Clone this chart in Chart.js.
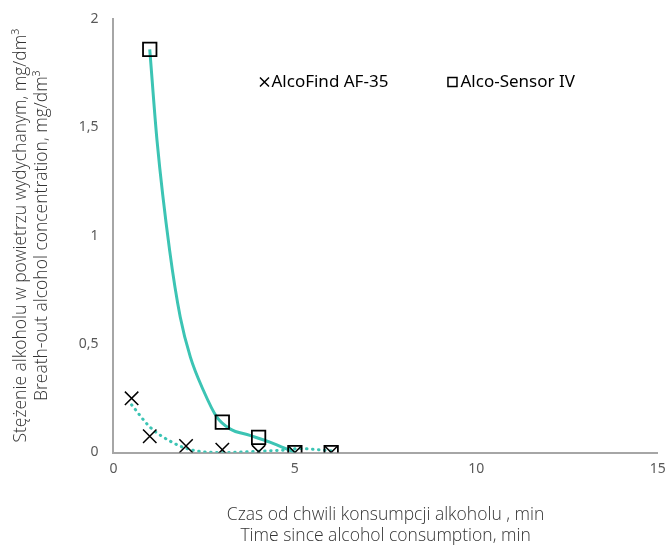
<!DOCTYPE html>
<html>
<head>
<meta charset="utf-8">
<script src="https://cdn.jsdelivr.net/npm/chart.js@4"></script>
<style>
  html, body { margin: 0; padding: 0; background: #fff; }
  #wrap { width: 669px; height: 547px; }
</style>
</head>
<body>
<div id="wrap"><canvas id="chart" width="669" height="547"></canvas></div>
<script>
// measured points
const timeAF = [0.5, 1, 2, 3, 4, 5, 6];
const valAF = [0.25, 0.075, 0.03, 0.013, 0.003, 0, 0];
const timeAS = [1, 3, 4, 5, 6];
const valAS = [1.86, 0.14, 0.07, 0, 0];

// smoothed curves
const curveASx = [1, 1.2, 1.55, 1.84, 2.12, 2.48, 2.85, 3.21, 3.76, 4.31, 5];
const curveASy = [1.86, 1.44, 0.93, 0.625, 0.44, 0.286, 0.163, 0.109, 0.079, 0.048, 0];
const curveAFx = [0.5, 1.02, 1.61, 2.02, 2.5, 3, 4.04, 4.77, 5.1, 6];
const curveAFy = [0.22, 0.115, 0.048, 0.018, 0.003, 0, 0.006, 0.012, 0.018, 0.008];

const xTicks = [0, 5, 10, 15];
const legendLabels = ['AlcoFind AF-35', 'Alco-Sensor IV'];

const TEAL = '#3cc4b4';
const pts = (xs, ys) => xs.map((x, i) => ({ x: x, y: ys[i] }));

// legend drawn inside the plot area
const innerLegend = {
  id: 'innerLegend',
  afterDraw(chart) {
    const ctx = chart.ctx;
    const a = chart.chartArea;
    const y = a.top + 63;
    ctx.save();
    ctx.strokeStyle = '#000';
    ctx.lineWidth = 1.5;
    ctx.fillStyle = '#000';
    ctx.font = '17px "Noto Sans", sans-serif';
    ctx.textBaseline = 'middle';

    // cross
    let x = a.left + 151;
    ctx.beginPath();
    ctx.moveTo(x - 4.5, y - 4.5); ctx.lineTo(x + 4.5, y + 4.5);
    ctx.moveTo(x + 4.5, y - 4.5); ctx.lineTo(x - 4.5, y + 4.5);
    ctx.stroke();
    ctx.fillText(legendLabels[0], x + 7, y);

    // square
    x = a.left + 339;
    ctx.strokeRect(x - 4.5, y - 4.5, 9, 9);
    ctx.fillText(legendLabels[1], x + 8, y);
    ctx.restore();
  }
};

const titleFont = { size: 17.5, family: '"Open Sans", "Noto Sans", sans-serif', weight: 300, lineHeight: 1.22 };

new Chart(document.getElementById('chart'), {
  type: 'scatter',
  data: {
    datasets: [{
      label: 'curve AS',
      data: pts(curveASx, curveASy),
      showLine: true,
      borderColor: TEAL,
      borderWidth: 3,
      pointRadius: 0,
      cubicInterpolationMode: 'monotone',
      order: 4
    }, {
      label: 'curve AF',
      data: pts(curveAFx, curveAFy),
      showLine: true,
      borderColor: TEAL,
      borderWidth: 3,
      borderDash: [0.5, 5.5],
      borderCapStyle: 'round',
      pointRadius: 0,
      cubicInterpolationMode: 'monotone',
      order: 3
    }, {
      label: legendLabels[1],
      data: pts(timeAS, valAS),
      pointStyle: 'rect',
      pointRadius: 9.5,
      pointBorderColor: '#000',
      pointBackgroundColor: 'rgba(0,0,0,0)',
      pointBorderWidth: 1.8,
      order: 2
    }, {
      label: legendLabels[0],
      data: pts(timeAF, valAF),
      pointStyle: 'crossRot',
      pointRadius: 9.5,
      pointBorderColor: '#000',
      pointBorderWidth: 1.5,
      order: 1
    }]
  },
  options: {
    responsive: false,
    animation: false,
    layout: { padding: { top: 19, right: 10, left: 10, bottom: 0 } },
    plugins: { legend: { display: false }, tooltip: { enabled: false } },
    scales: {
      x: {
        min: 0, max: 15,
        afterBuildTicks: (s) => { s.ticks = xTicks.map(v => ({ value: v })); },
        afterFit: (s) => { s.paddingRight = 0; s.paddingLeft = 0; },
        grid: { display: false, drawTicks: false },
        border: { color: '#a6a6a6', width: 2 },
        ticks: { color: '#595959', font: { size: 14, family: '"Noto Sans", sans-serif' }, padding: 8 },
        title: {
          display: true,
          text: ['Czas od chwili konsumpcji alkoholu , min', 'Time since alcohol consumption, min'],
          color: '#333333',
          font: titleFont,
          padding: { top: 19, bottom: 0 }
        }
      },
      y: {
        min: 0, max: 2,
        afterFit: (s) => { s.paddingTop = 0; s.paddingBottom = 0; },
        ticks: {
          stepSize: 0.5,
          color: '#595959',
          font: { size: 14, family: '"Noto Sans", sans-serif' },
          padding: 15,
          callback: (v) => String(v).replace('.', ',')
        },
        grid: { display: false, drawTicks: false },
        border: { color: '#a6a6a6', width: 2 },
        title: {
          display: true,
          text: ['Stężenie alkoholu w powietrzu wydychanym, mg/dm³', 'Breath-out alcohol concentration, mg/dm³'],
          color: '#333333',
          font: titleFont,
          padding: { top: 0, bottom: 11 }
        }
      }
    }
  },
  plugins: [innerLegend]
});
</script>
</body>
</html>
